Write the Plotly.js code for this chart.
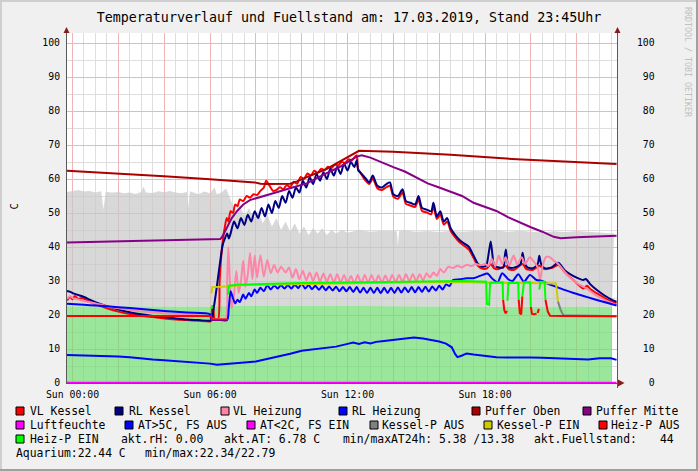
<!DOCTYPE html>
<html><head><meta charset="utf-8">
<script src="https://cdn.plot.ly/plotly-3.0.1.min.js"></script>
<style>html,body{margin:0;padding:0;background:#f0f0f0}#chart{width:698px;height:471px}</style>
</head><body><div id="chart"></div>
<script>
// ---------------- DATA (hours since Sun 00:00, values in C / %) ----------------
const fuellstand = [[-0.24,56.2],[0,56.5],[0.25,56.8],[0.5,56.3],[0.75,56.5],[1,56.0],[1.25,56.4],[1.35,51.0],[1.45,56.2],[1.75,56.0],[2,56.2],[2.25,55.8],[2.5,56.0],[2.75,55.6],[3,56.2],[3.1,57.8],[3.2,56.0],[3.5,55.9],[3.75,56.4],[4,56.1],[4.25,56.5],[4.5,56.0],[4.75,55.8],[5.0,56.2],[5.05,51.5],[5.12,56.4],[5.5,55.5],[5.75,56.3],[6.0,55.8],[6.2,57.5],[6.3,55.5],[6.5,56.0],[6.7,57.2],[6.9,54.0],[7.1,50.5],[7.3,52.5],[7.5,49.0],[7.7,51.5],[7.9,48.5],[8.1,50.5],[8.3,47.0],[8.5,49.5],[8.7,46.0],[8.9,48.5],[9.1,45.0],[9.3,47.5],[9.5,44.5],[9.7,47.0],[9.9,44.0],[10.1,46.0],[10.3,43.5],[10.5,45.5],[10.7,44.0],[10.9,45.5],[11.1,43.5],[11.3,45.0],[11.5,44.0],[11.75,45.0],[12,44.2],[12.5,45.0],[13,44.5],[13.5,44.8],[14,44.6],[14.15,44.6],[14.2,40.5],[14.25,44.6],[14.5,44.9],[15,44.5],[15.5,44.7],[16,44.4],[16.5,44.8],[17,44.5],[17.5,44.7],[18,44.6],[18.5,44.9],[19,44.5],[19.5,44.8],[20,44.6],[20.5,44.3],[21,44.6],[21.5,44.4],[22,44.7],[22.5,44.5],[23,44.3],[23.63,44.0]];
const aquarium = [[-0.24,22.6],[2,22.5],[4,22.4],[6,22.5],[8,22.8],[10,22.7],[12,22.6],[14,22.7],[16,22.5],[18,22.5],[20,22.4],[22,22.5],[23.54,22.4]];
const vlKessel = [[-0.24,24.3],[-0.1,25.3],[0.0,24.6],[0.1,25.6],[0.25,24.7],[0.4,25.0],[0.6,24.4],[0.8,23.8],[1.0,23.2],[1.5,22.0],[2.0,21.0],[2.5,20.3],[3.0,19.8],[3.5,19.4],[4.0,19.0],[4.5,18.7],[5.0,18.5],[5.5,18.3],[6.0,18.1],[6.05,18.3],[6.1,22.6],[6.15,21.5],[6.2,18.8],[6.35,18.6],[6.42,30],[6.5,38],[6.58,43],[6.65,46],[6.73,48.5],[6.8,47.5],[6.9,50.5],[7.0,50],[7.1,52.5],[7.2,52],[7.3,54],[7.45,53.5],[7.6,55],[7.75,54.5],[7.9,55.5],[8.05,55.3],[8.2,56.5],[8.35,57.5],[8.45,59.5],[8.6,58],[8.75,56.5],[8.9,56.8],[9.05,57.6],[9.2,57],[9.35,58.2],[9.5,57.6],[9.65,59.2],[9.8,58.6],[9.95,60.6],[10.1,60],[10.25,61.6],[10.4,61],[10.55,62.4],[10.7,61.8],[10.85,63],[11.0,62.6],[11.15,63.6],[11.3,63.2],[11.45,64.2],[11.6,64],[11.75,65],[11.9,64.8],[12.05,65.8],[12.2,65.5],[12.32,66.5],[12.4,67.0],[12.46,63],[12.55,62.0],[12.75,59.8],[12.95,58.5],[13.1,60.2],[13.3,57.3],[13.5,56.8],[13.7,57.6],[13.85,58],[14.0,54.8],[14.2,54.2],[14.4,56],[14.55,52.7],[14.75,52.2],[14.95,51.8],[15.1,54],[15.25,50.6],[15.45,50.2],[15.65,49.6],[15.75,52],[15.9,48.2],[16.05,49.6],[16.2,46.6],[16.35,47.5],[16.5,44.8],[16.7,42.8],[16.9,41.3],[17.1,40.3],[17.3,39.2],[17.5,36.8],[17.7,34.4],[17.9,33.6],[18.1,33.8],[18.25,35],[18.4,33.7],[18.6,33.5],[18.9,34.5],[19.05,33.4],[19.3,33.4],[19.64,35],[19.8,33.5],[20.1,33.3],[20.37,34.5],[20.6,33.5],[20.9,33.8],[21.2,34.7],[21.5,32.5],[21.9,30],[22.29,27.8],[22.45,28.6],[22.6,27.6],[22.9,26.3],[23.3,24.7],[23.74,23.4]];
const rlKessel = [[-0.24,27.1],[-0.1,26.8],[0.1,26.2],[0.5,25.3],[0.75,24.5],[1.0,23.8],[1.5,22.6],[2.0,21.6],[2.5,20.8],[3.0,20.2],[3.5,19.7],[4.0,19.3],[4.5,19.0],[5.0,18.7],[5.5,18.5],[6.0,18.3],[6.08,18.6],[6.15,21.5],[6.25,26],[6.35,31],[6.45,36],[6.55,40.5],[6.65,42.5],[6.75,44],[6.82,42.5],[6.9,44],[7.05,47.5],[7.2,45.5],[7.35,48.5],[7.5,46.5],[7.65,49.5],[7.8,47.5],[7.95,50.5],[8.1,48.5],[8.25,51.5],[8.4,49],[8.55,52.5],[8.7,50],[8.85,53.5],[9.0,51.5],[9.15,55],[9.3,53],[9.45,56.5],[9.6,54.5],[9.75,57.5],[9.9,56],[10.05,59.5],[10.2,57.5],[10.35,60.5],[10.5,58.5],[10.65,61.5],[10.8,59.5],[10.95,62],[11.1,60],[11.25,63],[11.4,61],[11.55,63.5],[11.7,61.5],[11.85,64.5],[12.0,62.5],[12.15,65],[12.3,63.5],[12.4,65.5],[12.47,62.5],[12.55,62],[12.75,60.5],[12.95,59],[13.1,61],[13.3,58],[13.5,57.5],[13.7,58.5],[13.85,59],[14.0,55.5],[14.2,55],[14.4,57],[14.55,53.5],[14.75,53],[14.95,52.5],[15.1,55],[15.25,51.5],[15.45,51],[15.65,50.5],[15.75,53],[15.9,49],[16.05,50.5],[16.2,47.5],[16.35,48.5],[16.5,45.5],[16.7,43.5],[16.9,42],[17.1,41],[17.3,40],[17.5,37.5],[17.7,35],[17.9,34.2],[18.05,34.5],[18.18,39],[18.25,41.6],[18.32,38],[18.4,34.5],[18.6,34],[18.8,34],[18.86,37],[18.91,39.3],[18.97,36],[19.05,34],[19.3,34],[19.55,35],[19.64,38.3],[19.72,35.5],[19.85,34],[20.1,33.8],[20.3,35],[20.37,37.4],[20.45,35],[20.6,33.8],[20.9,34],[21.2,35.4],[21.5,33],[22.0,31],[22.29,30.3],[22.4,30.6],[22.6,29],[22.87,27.4],[23.2,25.8],[23.5,24.6],[23.74,23.9]];
const vlHeizung = [[-0.24,24.8],[-0.1,25.5],[0.05,24.8],[0.25,24.6],[0.5,24.1],[1,23.4],[1.5,22.6],[2,22.0],[2.5,21.5],[3,21.1],[3.5,20.8],[4,20.5],[4.5,20.3],[5,20.1],[5.5,19.9],[6.0,19.7],[6.05,19.2],[6.1,18.8],[6.5,18.8],[6.7,19.0],[6.75,30],[6.8,40],[6.85,33],[6.9,25.5],[6.95,22],[7.05,26],[7.15,33],[7.25,26.5],[7.35,30],[7.45,36],[7.55,28.3],[7.65,32],[7.75,38.2],[7.85,30.5],[7.95,37.5],[8.05,31],[8.2,37.6],[8.35,31.3],[8.5,36.2],[8.65,32.3],[8.8,34.7],[8.95,32.5],[9.1,34.2],[9.3,32.5],[9.45,34],[9.6,31],[9.75,33.5],[9.9,30.5],[10.05,33],[10.2,30.2],[10.35,32.5],[10.5,30],[10.65,32.5],[10.8,29.8],[10.95,32.2],[11.1,29.8],[11.25,32],[11.4,29.5],[11.55,32],[11.7,29.5],[11.85,31.8],[12.0,29.3],[12.15,31.5],[12.3,29.3],[12.45,31.8],[12.6,29.2],[12.75,31.8],[12.9,29.5],[13.05,31.8],[13.2,29.5],[13.35,31.6],[13.5,29.5],[13.65,31.6],[13.8,29.6],[13.95,31.8],[14.1,29.6],[14.25,31.8],[14.4,29.8],[14.55,32],[14.7,30],[14.85,32],[15.0,30],[15.15,32],[15.3,30.2],[15.45,32.3],[15.6,31],[15.75,32.5],[15.9,31.5],[16.05,33.5],[16.2,32.5],[16.4,34.2],[16.6,33.8],[16.8,34.5],[17.0,34],[17.2,34.8],[17.4,34.4],[17.6,35],[17.8,34.6],[18.0,35],[18.15,34.5],[18.3,36.5],[18.45,34.3],[18.6,37.5],[18.75,35],[18.9,37],[19.05,34.5],[19.25,37.5],[19.4,35],[19.6,37],[19.75,35],[19.95,37],[20.1,36],[20.3,34],[20.4,30.3],[20.5,34],[20.65,37],[20.8,37.1],[21.0,36],[21.2,35],[21.5,32.5],[21.8,30.5],[22.1,29],[22.43,27.8],[22.8,26],[23.2,24.5],[23.5,23.6],[23.74,22.9]];
const rlHeizung = [[-0.24,23.3],[0.5,23.0],[1,22.8],[2,22.3],[3,21.8],[4,21.2],[5,20.7],[6.0,20.2],[6.05,18.7],[6.5,18.5],[6.75,18.5],[6.82,22],[6.9,27],[7.0,25],[7.1,23.4],[7.2,24.5],[7.3,23.8],[7.45,26],[7.55,24.8],[7.7,26.5],[7.8,25.5],[7.95,27.5],[8.05,26.5],[8.2,28],[8.35,27],[8.5,28.8],[8.65,27.5],[8.8,28.7],[8.95,27.8],[9.1,28.8],[9.25,27.8],[9.4,28.8],[9.55,27.8],[9.7,28.9],[9.85,27.9],[10.0,29.3],[10.15,27.8],[10.3,28.8],[10.45,27.6],[10.6,28.6],[10.75,27.4],[10.9,28.5],[11.05,27.3],[11.2,28.4],[11.35,27.2],[11.5,28.3],[11.65,27.0],[11.8,28.2],[11.95,27.0],[12.1,28.2],[12.25,26.8],[12.4,28.2],[12.55,26.6],[12.7,28.0],[12.85,26.5],[13.0,28.0],[13.15,26.5],[13.3,28.0],[13.45,26.4],[13.6,28.0],[13.75,26.5],[13.9,28.0],[14.05,26.5],[14.2,28.1],[14.35,26.6],[14.5,28.1],[14.65,26.7],[14.8,28.2],[14.95,26.7],[15.1,28.2],[15.25,26.8],[15.4,28.3],[15.55,26.9],[15.7,28.4],[15.85,27.2],[16.0,28.6],[16.15,27.5],[16.3,29.0],[16.45,28.5],[16.6,30.3],[16.9,30.5],[17.2,30.8],[17.5,30.8],[17.7,31.3],[17.9,31.8],[18.1,32.2],[18.35,30.5],[18.55,29.6],[18.75,32.3],[19.0,30.6],[19.2,30.0],[19.45,32.0],[19.7,29.8],[19.96,31.8],[20.25,30.3],[20.5,30.0],[20.7,29.3],[21.1,28.3],[21.5,27.3],[21.9,26.4],[22.3,25.6],[22.7,24.8],[23.2,23.8],[23.74,22.8]];
const pufferOben = [[-0.24,62.4],[2,61.6],[4,60.8],[6,59.9],[7.5,59.3],[7.95,59.0],[8.2,58.6],[8.5,58.5],[9.5,58.6],[9.8,59.3],[10.2,60.5],[10.65,61.7],[11.1,63.0],[11.5,64.5],[11.9,66.0],[12.25,67.5],[12.5,68.3],[14,68.0],[16.5,67.1],[19.4,65.8],[23.74,64.4]];
const pufferMitte = [[-0.24,41.3],[3,41.8],[6.45,42.35],[6.55,43.2],[6.73,45.5],[6.95,48.5],[7.16,50.4],[7.45,52.5],[7.74,53.8],[8.2,54.8],[8.76,55.8],[9.49,57.3],[10.22,58.7],[10.94,61.2],[11.67,63.6],[12.4,66.6],[12.62,67.0],[13.0,66.3],[13.56,64.6],[14.0,63.5],[14.5,62.2],[15.0,60.5],[15.5,58.7],[16.0,57.5],[16.5,56.3],[17.0,55.0],[17.5,53.0],[18.0,51.7],[18.5,50.6],[19.0,48.8],[19.5,47.2],[20.0,45.8],[20.5,44.5],[21.0,43.0],[21.3,42.6],[22,42.9],[23.74,43.3]];
const luftfeuchte = [[-0.24,0],[23.74,0]];
const aussenTemp = [[-0.24,8.2],[0.5,8.1],[1,8.0],[1.5,8.0],[2,7.8],[2.5,7.6],[3,7.2],[3.5,6.9],[4,6.7],[4.5,6.5],[5,6.3],[5.5,6.1],[6,5.7],[6.3,5.4],[6.6,5.5],[7,5.7],[7.5,6.0],[8,6.3],[8.5,7.0],[9,7.8],[9.5,8.6],[10,9.5],[10.5,9.9],[11,10.2],[11.5,10.7],[12,11.5],[12.25,11.9],[12.5,11.5],[12.75,12.0],[13,11.6],[13.25,12.1],[13.5,12.3],[14,12.7],[14.5,13.2],[14.9,13.4],[15.3,13.1],[15.7,12.7],[16,12.2],[16.3,11.6],[16.55,10.5],[16.7,8.5],[16.8,7.6],[17.0,8.1],[17.2,8.7],[17.5,8.4],[18,8.0],[18.5,7.6],[19,7.5],[19.5,7.6],[20,7.5],[20.5,7.4],[21,7.3],[21.5,7.2],[22,7.0],[22.5,6.9],[23,7.3],[23.3,7.4],[23.5,7.3],[23.74,6.8]];
const kesselPAus = [[21.18,24.0],[21.3,21.5],[21.42,19.9],[23.74,19.6]];
const kesselPEin = [[6.06,26.4],[6.1,28.2],[6.5,28.3],[6.8,28.5],[7.5,28.8],[9,29.0],[12,29.4],[15,29.6],[17,29.7],[18,29.5],[20,29.4],[21.1,29.3],[21.18,24.0]];
const heizPAus = [[-0.24,19.7],[6.05,19.7],[6.08,18.7],[6.78,18.7],[null,null],[18.79,24.5],[18.84,21.5],[18.9,20.5],[18.96,21.2],[null,null],[19.47,24.5],[19.52,20.5],[19.58,20.2],[19.63,25.5],[null,null],[20.0,22.4],[20.05,20.3],[20.15,20.2],[20.25,20.4],[null,null],[20.3,20.6],[20.35,21.8],[null,null],[20.64,24.4],[20.74,21],[20.84,19.8],[21.5,19.7],[23.74,19.6]];
const heizPEin = [[6.05,21.8],[6.1,22.7],[null,null],[6.78,26.0],[6.82,28.6],[7.2,28.9],[8,29.1],[9,29.2],[10,29.4],[11,29.5],[12,29.6],[13,29.6],[14,29.7],[15,29.8],[16,29.9],[17,30.0],[18.05,29.8],[18.08,23.3],[18.18,23.0],[18.22,29.5],[18.77,29.6],[18.79,24.5],[null,null],[18.98,24.2],[19.02,29.4],[19.45,29.5],[19.47,24.5],[null,null],[19.63,25.5],[19.7,29.6],[19.97,29.6],[20.0,22.4],[null,null],[20.37,27.5],[20.42,29.8],[20.6,29.8],[20.64,24.4]];

const xTickVals = [0,2,4,6,8,10,12,14,16,18,20,22];
const xTickText = ['Sun 00:00','','','Sun 06:00','','','Sun 12:00','','','Sun 18:00','',''];
const yTickVals = [0,10,20,30,40,50,60,70,80,90,100];

const legendNames  = ['VL Kessel','RL Kessel','VL Heizung','RL Heizung','Puffer Oben','Puffer Mitte','Luftfeuchte','AT&gt;5C, FS AUS','AT&lt;2C, FS EIN','Kessel-P AUS','Kessel-P EIN','Heiz-P AUS','Heiz-P EIN'];
const legendColors = ['#ff0000','#000080','#ff85a8','#0000ff','#aa0000','#880088','#ff00ff','#0000ff','#ff00ff','#808080','#cccc00','#ff0000','#00ff00'];
const infoTexts = ['akt.rH: 0.00','akt.AT: 6.78 C','min/maxAT24h: 5.38 /13.38','akt.Fuellstand:','44','Aquarium:22.44 C','min/max:22.34/22.79'];

// ---------------- LAYOUT HELPERS ----------------
const MONO = '"DejaVu Sans Mono", monospace';
const L=67, R=617, T=33, B=383;
const px = x => (x-L)/(R-L);
const py = y => (B-y)/(B-T);
const xs = a => a.map(p=>p[0]);
const ys = a => a.map(p=>p[1]);

function line(d, color, extra){
  return Object.assign({x:xs(d), y:ys(d), type:'scatter', mode:'lines', line:{color:color, width:2}, hoverinfo:'skip', connectgaps:false}, extra||{});
}
const smooth = c => ({line:{color:c, width:2, shape:'spline', smoothing:0.7}});

const traces = [
  {x:xs(aquarium), y:ys(aquarium), type:'scatter', mode:'lines', line:{width:0}, fill:'tozeroy', fillcolor:'rgba(111,219,111,0.7)', hoverinfo:'skip'},
  {x:xs(fuellstand), y:ys(fuellstand), type:'scatter', mode:'lines', line:{width:0}, fill:'tonexty', fillcolor:'rgba(199,199,199,0.7)', hoverinfo:'skip'},
  line(vlKessel, legendColors[0], smooth(legendColors[0])),
  line(rlKessel, legendColors[1], smooth(legendColors[1])),
  line(vlHeizung, legendColors[2], smooth(legendColors[2])),
  line(rlHeizung, legendColors[3], smooth(legendColors[3])),
  line(pufferOben, legendColors[4]),
  line(pufferMitte, legendColors[5]),
  line(aussenTemp, legendColors[7]),
  line(kesselPAus, legendColors[9]),
  line(kesselPEin, legendColors[10]),
  line(heizPAus, legendColors[11]),
  line(heizPEin, legendColors[12]),
  line(luftfeuchte, legendColors[6], {yaxis:'y2', line:{color:legendColors[6], width:2.5}})
];

const shapes = [];
const annotations = [];
const axisCol = '#5a5a5a', arrowCol = '#8b1a1a';
function tri(pts, col){
  const p = pts.map((q,i)=>(i?'L':'M')+' '+px(q[0])+' '+py(q[1])).join(' ')+' Z';
  shapes.push({type:'path', xref:'paper', yref:'paper', path:p, fillcolor:col, line:{width:0}});
}
shapes.push({type:'line', xref:'paper', yref:'paper', x0:px(66.5), x1:px(66.5), y0:py(33), y1:py(29), line:{color:axisCol, width:1}});
shapes.push({type:'line', xref:'paper', yref:'paper', x0:px(617.5), x1:px(617.5), y0:py(33), y1:py(29), line:{color:axisCol, width:1}});
shapes.push({type:'line', xref:'paper', yref:'paper', x0:px(617.5), x1:px(617.5), y0:py(383), y1:py(388), line:{color:axisCol, width:1}});
tri([[63.5,33],[69.5,33],[66.5,27]], arrowCol);
tri([[614.5,33],[620.5,33],[617.5,27]], arrowCol);
tri([[618,379.5],[618,386.5],[624.5,383]], arrowCol);
// frame
shapes.push({type:'rect', xref:'paper', yref:'paper', x0:px(0), x1:px(698), y0:py(0), y1:py(2), fillcolor:'#cfcfcf', line:{width:0}});
shapes.push({type:'rect', xref:'paper', yref:'paper', x0:px(0), x1:px(2), y0:py(0), y1:py(471), fillcolor:'#cfcfcf', line:{width:0}});
shapes.push({type:'rect', xref:'paper', yref:'paper', x0:px(696), x1:px(698), y0:py(0), y1:py(471), fillcolor:'#a0a0a0', line:{width:0}});
shapes.push({type:'rect', xref:'paper', yref:'paper', x0:px(0), x1:px(698), y0:py(469), y1:py(471), fillcolor:'#a0a0a0', line:{width:0}});

// legend
const LFS = 11.4;
function txt(x, y, t, extra){
  annotations.push(Object.assign({xref:'paper', yref:'paper', x:px(x), y:py(y), text:t, showarrow:false, xanchor:'left', yanchor:'middle', borderpad:0, borderwidth:0, font:{family:MONO, size:LFS, color:'#000'}}, extra||{}));
}
function sq(x, y, col){
  shapes.push({type:'rect', xref:'paper', yref:'paper', x0:px(x), x1:px(x+8), y0:py(y-4), y1:py(y+4), fillcolor:col, line:{color:'#000', width:1}});
}
const rowY = [411, 425, 439, 453];
const sqX = [16,115,221,339,472,583, 16,125,247,370,484,599, 16];
const txX = [30,129,233,352,485,596, 30,138,260,382,497,611, 30];
for (let i=0;i<legendNames.length;i++){
  const r = Math.floor(i/6);
  sq(sqX[i], rowY[r], legendColors[i]);
  txt(txX[i], rowY[r], legendNames[i]);
}
const infoX = [121,224,343,534,660,16,145];
const infoRow = [2,2,2,2,2,3,3];
infoTexts.forEach((t,i)=>txt(infoX[i], rowY[infoRow[i]], t));

annotations.push({xref:'paper', yref:'paper', x:px(14), y:py(206.5), text:'C', showarrow:false, textangle:-90, xanchor:'center', yanchor:'middle', font:{family:MONO, size:10.5, color:'#000'}});
annotations.push({xref:'paper', yref:'paper', x:px(688), y:py(62), text:'RRDTOOL / TOBI OETIKER', showarrow:false, textangle:90, xanchor:'center', yanchor:'middle', font:{family:MONO, size:8.3, color:'#c0c0c0'}});

const majorGrid = '#f0b4b4', minorGrid = '#dedede';
const tickFont = {family:MONO, size:9.8, color:'#000'};
const yRange = [0, 102.94];

const layout = {
  width:698, height:471,
  margin:{l:67, r:81, t:33, b:88, pad:0},
  paper_bgcolor:'#f0f0f0', plot_bgcolor:'#ffffff',
  showlegend:false, hovermode:false,
  title:{text:'Temperaturverlauf und Fuellstand am: 17.03.2019, Stand 23:45Uhr', font:{family:MONO, size:13.3, color:'#000'}, x:0.5, xref:'container', xanchor:'center', y:1-17/471, yref:'container', yanchor:'middle'},
  xaxis:{range:[-0.24, 23.76], tickmode:'array', tickvals:xTickVals, ticktext:xTickText, showgrid:true, gridcolor:majorGrid, gridwidth:1,
         minor:{tickmode:'linear', tick0:0, dtick:0.5, showgrid:true, gridcolor:minorGrid, gridwidth:1, ticks:''},
         zeroline:false, showline:true, linecolor:axisCol, linewidth:1, ticks:'', tickfont:tickFont, ticklabelstandoff:2},
  yaxis:{range:yRange, tickmode:'array', tickvals:yTickVals, showgrid:true, gridcolor:majorGrid, gridwidth:1,
         minor:{tickmode:'linear', tick0:0, dtick:5, showgrid:true, gridcolor:minorGrid, gridwidth:1, ticks:''},
         zeroline:false, showline:true, linecolor:axisCol, linewidth:1, ticks:'', tickfont:tickFont, ticklabelstandoff:4},
  yaxis2:{range:yRange, overlaying:'y', side:'right', tickmode:'array', tickvals:yTickVals,
          ticktext:yTickVals.map(v=>String(v).padStart(3,'\u00a0')),
          showgrid:false, zeroline:false, showline:true, linecolor:axisCol, linewidth:1, ticks:'', tickfont:tickFont, ticklabelstandoff:17},
  shapes:shapes, annotations:annotations
};

Plotly.newPlot('chart', traces, layout, {staticPlot:true, displayModeBar:false});
</script>
</body></html>
